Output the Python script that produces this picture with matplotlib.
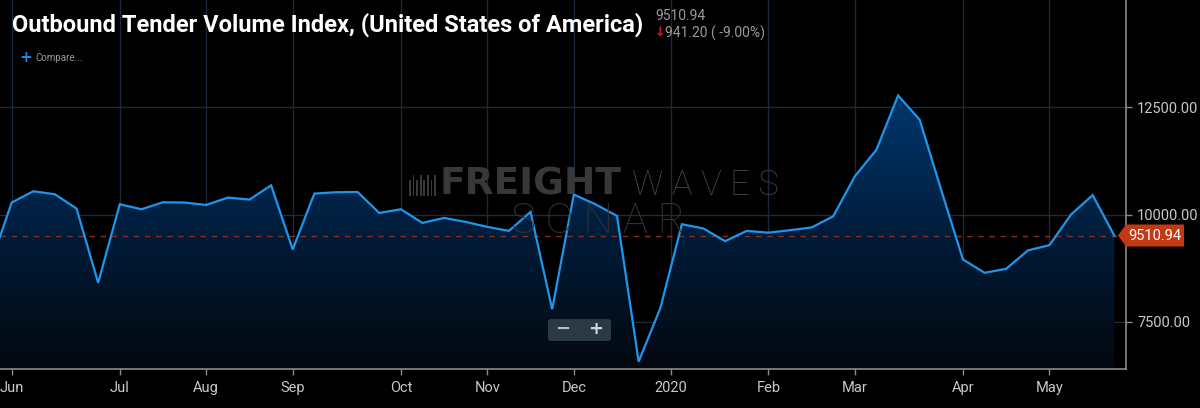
import matplotlib
matplotlib.use("Agg")
import matplotlib.pyplot as plt
import numpy as np
from matplotlib.patches import FancyBboxPatch, Polygon, Rectangle
from matplotlib.colors import LinearSegmentedColormap

# weekly index values (late May 2019 - May 2020)
values = [8816, 10279, 10542, 10472, 10140, 8409, 10240, 10123, 10286, 10279,
          10223, 10395, 10349, 10681, 9186, 10488, 10519, 10526, 10037, 10123,
          9805, 9921, 9828, 9712, 9619, 10060, 7791, 10465, 10240, 9967,
          6572, 7814, 9774, 9674, 9379, 9619, 9577, 9635, 9698, 9960,
          10891, 11512, 12774, 12209, 10565, 8953, 8642, 8735, 9163, 9286,
          10000, 10452.14, 9510.94]
month_pos = [1, 6, 10, 14, 19, 23, 27, 31.5, 36, 40, 45, 49]
month_labels = ["Jun", "Jul", "Aug", "Sep", "Oct", "Nov", "Dec", "2020",
                "Feb", "Mar", "Apr", "May"]
y_ticks = [7500, 10000, 12500]
last_value = values[-1]
change = values[-1] - values[-2]
change_pct = change / values[-2] * 100

x = np.arange(len(values))

fig = plt.figure(figsize=(12, 4.08), dpi=100)
fig.patch.set_facecolor("black")
ax = fig.add_axes([0.0, 0.0956, 0.9383, 0.9044])
ax.set_facecolor("black")

xmin, xmax = 0.46, 52.54
ymin, ymax = 6400, 15000
ax.set_xlim(xmin, xmax)
ax.set_ylim(ymin, ymax)

# grid
for p in month_pos:
    ax.axvline(p, color="#1b2838", lw=1, zorder=1)
for t in y_ticks:
    ax.axhline(t, color="#1e2a36", lw=1, zorder=1)

# gradient fill under the line
fill = ax.fill_between(x, values, ymin, color="none", lw=0)
grad = np.linspace(0, 1, 256).reshape(-1, 1)
cmap = LinearSegmentedColormap.from_list("g", ["#03080f", "#011a36", "#003262", "#00407c"])
img = ax.imshow(grad, extent=[xmin, xmax, ymin, ymax], origin="lower",
                aspect="auto", cmap=cmap, zorder=2)
img.set_clip_path(fill.get_paths()[0], transform=ax.transData)

ax.plot(x, values, color="#1e96ec", lw=1.6, zorder=4, solid_joinstyle="miter")

# last value line
ax.axhline(last_value, color="#8a2e1c", lw=1, ls=(0, (4, 4)), zorder=3)

# axes styling
for s in ["top", "left"]:
    ax.spines[s].set_visible(False)
for s in ["right", "bottom"]:
    ax.spines[s].set_color("#8a8a8a")
    ax.spines[s].set_linewidth(1.2)
ax.yaxis.tick_right()
ax.set_yticks(y_ticks)
ax.set_yticklabels(["%.2f" % t for t in y_ticks])
ax.set_xticks(month_pos)
ax.set_xticklabels(month_labels)
ax.tick_params(axis="both", colors="#8a8a8a", labelcolor="#c8c8c8",
               labelsize=10.5, length=4, width=1)
ax.tick_params(axis="y", pad=4)
ax.tick_params(axis="x", pad=5)
for lab in ax.get_xticklabels() + ax.get_yticklabels():
    lab.set_family(["Roboto", "DejaVu Sans"])

# price tag on right axis
ty = (last_value - ymin) / (ymax - ymin) * 0.9044 + 0.0956
tag = Polygon([[1118 / 1200, ty], [1126 / 1200, ty + 11 / 408], [1184 / 1200, ty + 11 / 408],
               [1184 / 1200, ty - 11 / 408], [1126 / 1200, ty - 11 / 408]],
              closed=True, transform=fig.transFigure, facecolor="#c23a14",
              edgecolor="none", zorder=10)
fig.patches.append(tag)
fig.text(1155 / 1200, ty, "%.2f" % last_value, color="white", fontsize=10.5,
         ha="center", va="center", family=["Roboto", "DejaVu Sans"], zorder=11)

# title block
fig.text(12 / 1200, 1 - 25 / 408, "Outbound Tender Volume Index, (United States of America)",
         color="white", fontsize=17, fontweight="bold", va="center",
         family=["Roboto", "DejaVu Sans"])
fig.text(655 / 1200, 1 - 16 / 408, "%.2f" % last_value, color="#9a9a9a", fontsize=10,
         va="center", family=["Roboto", "DejaVu Sans"])
fig.text(655 / 1200, 1 - 33 / 408, "↓", color="#e0102a", fontsize=9, fontweight="bold",
         va="center", family=["DejaVu Sans"])
fig.text(665 / 1200, 1 - 33 / 408, "%.2f ( %.2f%%)" % (abs(change), change_pct),
         color="#9a9a9a", fontsize=10, va="center", family=["Roboto", "DejaVu Sans"])
fig.text(19 / 1200, 1 - 58 / 408, "+", color="#1e88e0", fontsize=11, fontweight="bold",
         va="center", family=["DejaVu Sans"])
fig.text(35 / 1200, 1 - 58 / 408, "Compare...", color="#9a9a9a", fontsize=7,
         va="center", family=["Roboto", "DejaVu Sans"])

# watermark
for i in range(8):
    h = 16 if i % 2 == 0 else 21
    fig.patches.append(Rectangle(((409 + i * 3.6) / 1200, (408 - 196) / 408), 1.7 / 1200, h / 408,
                                 transform=fig.transFigure, facecolor="#3a3a3a",
                                 edgecolor="none", zorder=3))
fig.text(440 / 1200, 1 - 185 / 408, "FREIGHT", color="#383838", fontsize=27,
         fontweight="bold", va="center", family=["DejaVu Sans"], zorder=3)
fig.text(632 / 1200, 1 - 185 / 408, "W A V E S", color="#404040", fontsize=25,
         fontweight="light", va="center", family=["Roboto", "DejaVu Sans"], zorder=3)
fig.text(598 / 1200, 1 - 221 / 408, "S O N A R", color="#323232", fontsize=30,
         fontweight="light", va="center", ha="center",
         family=["Roboto", "DejaVu Sans"], zorder=3)

# zoom buttons
btn = FancyBboxPatch((548 / 1200, 1 - 341 / 408), 63 / 1200, 22 / 408,
                     boxstyle="round,pad=0.0,rounding_size=0.004",
                     transform=fig.transFigure, facecolor="#2a3944",
                     edgecolor="none", zorder=12)
fig.patches.append(btn)
fig.text(563 / 1200, 1 - 329 / 408, "−", color="#b8bec4", fontsize=13, fontweight="bold",
         ha="center", va="center", zorder=13)
fig.text(596 / 1200, 1 - 329 / 408, "+", color="#d0d4d8", fontsize=13, fontweight="bold",
         ha="center", va="center", zorder=13)

fig.savefig("out.png", dpi=100, facecolor=fig.get_facecolor())
